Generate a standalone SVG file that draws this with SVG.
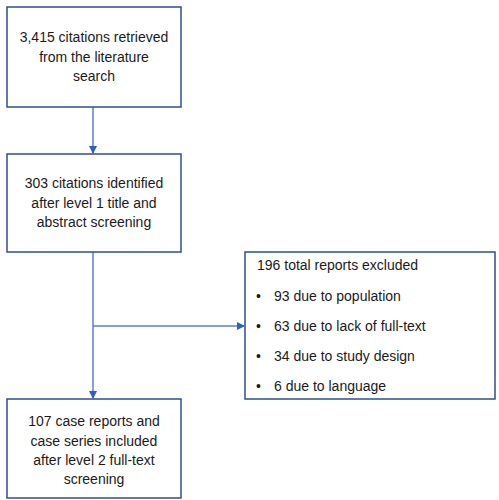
<svg xmlns="http://www.w3.org/2000/svg" width="499" height="500" viewBox="0 0 499 500">
<style>
.box{fill:#fff;stroke:#2f4f8f;stroke-width:1.5}
.t{font-family:"Liberation Sans",Arial,sans-serif;font-size:14px;fill:#1a1a1a}
.c{text-anchor:middle}
.ln{stroke:#5b82c8;stroke-width:1.5;fill:none}
</style>
<defs>
<marker id="ah" markerWidth="8" markerHeight="8" refX="7" refY="4" orient="auto" markerUnits="userSpaceOnUse">
<path d="M0,0 L8,4 L0,8 Z" fill="#2e5fc0"/>
</marker>
</defs>
<rect width="499" height="500" fill="#fff"/>
<g id="connectors">
<line class="ln" x1="93" y1="107" x2="93" y2="153" marker-end="url(#ah)"/>
<line class="ln" x1="93" y1="252" x2="93" y2="398" marker-end="url(#ah)"/>
<line class="ln" x1="93" y1="326" x2="244" y2="326" marker-end="url(#ah)"/>
</g>
<g id="n1">
<rect class="box" x="7" y="7" width="174" height="100"/>
<text class="t c" x="94" y="42">3,415 citations retrieved</text>
<text class="t c" x="94" y="62">from the literature</text>
<text class="t c" x="94" y="81">search</text>
</g>
<g id="n2">
<rect class="box" x="7" y="154" width="174" height="98"/>
<text class="t c" x="94" y="188">303 citations identified</text>
<text class="t c" x="94" y="208">after level  1 title and</text>
<text class="t c" x="94" y="227">abstract screening</text>
</g>
<g id="n3">
<rect class="box" x="245" y="252" width="250" height="147"/>
<text class="t" x="257" y="270">196 total reports excluded</text>
<text class="t" x="256" y="301">•</text><text class="t" x="274" y="301">93 due to population</text>
<text class="t" x="256" y="331">•</text><text class="t" x="274" y="331">63 due to lack of full-text</text>
<text class="t" x="256" y="361">•</text><text class="t" x="274" y="361">34 due to study design</text>
<text class="t" x="256" y="391">•</text><text class="t" x="274" y="391">6 due to language</text>
</g>
<g id="n4">
<rect class="box" x="7" y="399" width="174" height="99"/>
<text class="t c" x="94" y="426">107 case reports and</text>
<text class="t c" x="94" y="446">case series included</text>
<text class="t c" x="94" y="465">after level  2 full-text</text>
<text class="t c" x="94" y="484">screening</text>
</g>
</svg>
